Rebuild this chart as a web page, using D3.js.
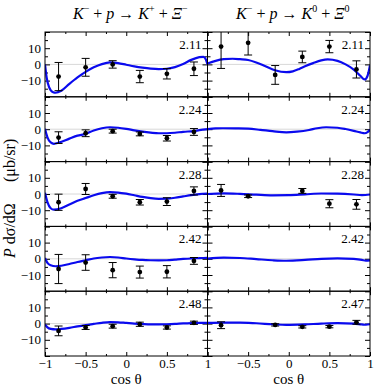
<!DOCTYPE html>
<html>
<head>
<meta charset="utf-8">
<script src="https://cdn.jsdelivr.net/npm/d3@7"></script>
<style>
  body { margin: 0; background: #fff; }
  svg { display: block; font-family: "Liberation Serif", "DejaVu Serif", serif; }
</style>
</head>
<body>
<div id="chart"></div>
<script>
// Angle bins (cos theta) of the measured points
var cosTheta = [-0.833, -0.5, -0.167, 0.167, 0.5, 0.833];

// Beam energies (GeV) shown in each row
var energiesXiMinus = ["2.11", "2.24", "2.28", "2.42", "2.48"];
var energiesXi0 = ["2.11", "2.24", "2.28", "2.42", "2.47"];

// Measured P dsigma/dOmega (mub/sr) and errors, one row per energy
var valuesXiMinus = [
  [-7.5, -1.8, 0.0, -7.5, -5.8, -2.7],
  [-5.2, -2.5, -1.2, -2.9, -5.6, -1.7],
  [-5.1, 3.1, -1.4, -5.1, -4.7, 1.9],
  [-6.3, -2.3, -7.0, -8.2, -8.0, -1.3],
  [-4.5, -2.4, -1.6, -0.4, -2.4, 0.5]
];
var errorsXiMinus = [
  [8.7, 5.5, 2.3, 3.8, 3.2, 4.2],
  [3.6, 2.1, 1.2, 1.2, 1.7, 2.1],
  [5.0, 3.4, 1.2, 1.7, 2.4, 2.5],
  [9.0, 4.8, 4.7, 3.7, 3.8, 2.1],
  [3.0, 1.2, 1.2, 1.3, 1.0, 1.0]
];
var valuesXi0 = [
  [11.0, 13.3, -6.5, 4.6, 11.0, -3.1],
  [null, null, null, null, null, null],
  [2.2, -1.4, null, 1.9, -6.0, -6.4],
  [null, null, null, null, null, null],
  [-1.0, null, -0.8, -2.0, -1.9, 0.8]
];
var errorsXi0 = [
  [13.5, 7.5, 5.8, 3.6, 3.8, 5.3],
  [null, null, null, null, null, null],
  [3.7, 0.8, null, 1.5, 2.5, 3.0],
  [null, null, null, null, null, null],
  [2.1, null, 0.7, 0.7, 0.7, 1.2]
];

// Model curves, [cos theta, value]
var curvesXiMinus = [
  [[-1, 0], [-0.98, -8], [-0.95, -14], [-0.9, -17.2], [-0.87, -17.5], [-0.8, -16.3], [-0.7, -12],
   [-0.6, -8], [-0.5, -4.6], [-0.4, -1.8], [-0.3, 0.2], [-0.2, 1.2], [-0.1, 0.8], [0, -0.2],
   [0.1, -1.2], [0.2, -2], [0.3, -2.6], [0.4, -2.9], [0.5, -2.7], [0.6, -1.7], [0.7, 0.2],
   [0.8, 2.8], [0.9, 4.5], [0.95, 4.7], [0.98, 3], [1, 0]],
  [[-1, 0.3], [-0.97, -5], [-0.93, -8.2], [-0.89, -9], [-0.83, -8.3], [-0.7, -5.8], [-0.6, -4],
   [-0.5, -2.9], [-0.4, -0.8], [-0.3, 0.6], [-0.2, 1.2], [-0.1, 0.9], [0, 0.2], [0.1, -0.7],
   [0.2, -1.5], [0.3, -2.1], [0.4, -2.5], [0.5, -2.5], [0.6, -2.2], [0.7, -1.6], [0.83, -1.2],
   [0.9, -0.6], [1, 0]],
  [[-1, 0.8], [-0.97, -5], [-0.93, -8.8], [-0.89, -9.7], [-0.8, -8.8], [-0.7, -6.5], [-0.6, -4.2],
   [-0.5, -2.5], [-0.4, -0.8], [-0.3, 0.5], [-0.2, 1.1], [-0.1, 0.9], [0, 0.2], [0.1, -0.8],
   [0.2, -1.8], [0.3, -2.6], [0.4, -3], [0.5, -2.9], [0.6, -2.3], [0.7, -1.5], [0.8, -0.7],
   [0.9, -0.1], [1, 0.3]],
  [[-1, 0.5], [-0.97, -2.5], [-0.93, -4], [-0.87, -4.6], [-0.8, -4.3], [-0.7, -3.2], [-0.6, -2],
   [-0.5, -0.9], [-0.4, 0.2], [-0.3, 0.8], [-0.2, 1.1], [-0.1, 0.8], [0, 0.2], [0.1, -0.3],
   [0.2, -0.7], [0.3, -0.9], [0.4, -1], [0.5, -0.9], [0.6, -0.5], [0.7, -0.1], [0.8, 0.2],
   [0.9, 0.4], [1, 0.6]],
  [[-1, -0.5], [-0.97, -2.3], [-0.93, -3.3], [-0.87, -3.6], [-0.8, -3.3], [-0.7, -2.6], [-0.6, -1.7],
   [-0.5, -0.9], [-0.4, -0.2], [-0.3, 0.5], [-0.2, 0.9], [-0.1, 0.8], [0, 0.4], [0.1, 0],
   [0.2, -0.3], [0.3, -0.5], [0.4, -0.5], [0.5, -0.4], [0.6, -0.2], [0.7, 0.1], [0.8, 0.3],
   [0.9, 0.4], [1, 0.4]]
];
var curvesXi0 = [
  [[-1, 0.6], [-0.9, 2.2], [-0.8, 3.2], [-0.69, 3.5], [-0.6, 3.2], [-0.5, 2.7], [-0.4, 1.2],
   [-0.3, -0.8], [-0.17, -3.6], [-0.03, -4.8], [0.05, -4.3], [0.13, -2.8], [0.2, -1.2],
   [0.3, 0.8], [0.4, 2.5], [0.48, 3.1], [0.6, 2.2], [0.7, 0], [0.8, -3.2], [0.88, -7],
   [0.935, -9.3], [0.97, -7], [1, -0.5]],
  [[-1, 0], [-0.9, 0.5], [-0.81, 0.6], [-0.65, 0.5], [-0.5, 0.3], [-0.35, -0.4], [-0.2, -1.2],
   [-0.03, -1.9], [0.1, -1.5], [0.25, -0.5], [0.35, 0.6], [0.46, 1.2], [0.6, 0.9], [0.7, 0.1],
   [0.8, -1], [0.88, -2], [0.935, -2.5], [0.97, -1.8], [1, -0.4]],
  [[-1, 0], [-0.8, 0.4], [-0.6, 0.1], [-0.4, -0.4], [-0.2, -0.8], [0, -0.7], [0.2, -0.2],
   [0.4, 0.3], [0.6, 0.2], [0.8, -0.3], [0.9, -0.7], [1, -0.3]],
  [[-1, 0.1], [-0.8, 0.7], [-0.6, 0.5], [-0.4, -0.2], [-0.2, -0.9], [-0.03, -1.2], [0.2, -0.7],
   [0.4, 0], [0.6, 0.3], [0.8, -0.1], [0.9, -0.7], [0.95, -1.2], [1, -0.9]],
  [[-1, 0.4], [-0.8, 0.6], [-0.6, 0.6], [-0.4, 0.2], [-0.2, -0.4], [-0.03, -0.8], [0.2, -0.5],
   [0.4, 0], [0.6, 0.3], [0.8, 0], [0.9, -0.5], [0.95, -0.7], [1, -0.4]]
];

var width = 374, height = 387;
var plotLeft = 45, plotTop = 32, panelW = 162.5, rowH = 64.8;

var svg = d3.select('#chart').append('svg')
            .attr('width', width)
            .attr('height', height);

var columns = [
  {energies: energiesXiMinus, values: valuesXiMinus, errors: errorsXiMinus, curves: curvesXiMinus},
  {energies: energiesXi0, values: valuesXi0, errors: errorsXi0, curves: curvesXi0}
];

var majorX = [-1, -0.5, 0, 0.5, 1],
    minorX = [-0.75, -0.25, 0.25, 0.75],
    majorY = [-20, -10, 0, 10, 20],
    minorY = [-15, -5, 5, 15];

columns.forEach(function(col, ci) {
  var x0 = plotLeft + ci * panelW;
  var x = d3.scaleLinear().domain([-1, 1]).range([x0, x0 + panelW]);

  col.energies.forEach(function(energy, ri) {
    var y0 = plotTop + ri * rowH;
    var y = d3.scaleLinear().domain([-20, 20]).range([y0 + rowH, y0]);
    var id = 'clip-' + ci + '-' + ri;

    svg.append('clipPath').attr('id', id)
      .append('rect')
      .attr('x', x0).attr('y', y0)
      .attr('width', panelW).attr('height', rowH);

    var g = svg.append('g');

    // zero line
    g.append('line')
      .attr('x1', x(-1)).attr('x2', x(1))
      .attr('y1', y(0)).attr('y2', y(0))
      .attr('stroke', '#d8d8d8').attr('stroke-width', 1);

    // ticks, all pointing inward
    function addAxis(axis, tx, ty) {
      var a = g.append('g')
        .attr('transform', 'translate(' + tx + ',' + ty + ')')
        .call(axis);
      a.select('.domain').remove();
      a.selectAll('text').remove();
      a.selectAll('line').attr('stroke', '#000');
    }
    addAxis(d3.axisBottom(x).tickValues(majorX).tickSize(4), 0, y0);
    addAxis(d3.axisBottom(x).tickValues(minorX).tickSize(2), 0, y0);
    addAxis(d3.axisTop(x).tickValues(majorX).tickSize(4), 0, y0 + rowH);
    addAxis(d3.axisTop(x).tickValues(minorX).tickSize(2), 0, y0 + rowH);
    addAxis(d3.axisRight(y).tickValues(majorY).tickSize(5), x0, 0);
    addAxis(d3.axisRight(y).tickValues(minorY).tickSize(3), x0, 0);
    addAxis(d3.axisLeft(y).tickValues(majorY).tickSize(5), x0 + panelW, 0);
    addAxis(d3.axisLeft(y).tickValues(minorY).tickSize(3), x0 + panelW, 0);

    // y tick labels on left column
    if (ci === 0) {
      var yl = g.append('g')
        .attr('transform', 'translate(' + x0 + ',0)')
        .call(d3.axisLeft(y).tickValues([-10, 0, 10]).tickSize(0).tickPadding(4));
      yl.select('.domain').remove();
      yl.selectAll('text')
        .attr('font-size', 13)
        .attr('font-family', '"Liberation Serif", serif')
        .attr('fill', '#000');
    }

    var inner = g.append('g').attr('clip-path', 'url(#' + id + ')');

    // model curve
    var line = d3.line()
      .curve(d3.curveMonotoneX)
      .x(function(d) { return x(d[0]); })
      .y(function(d) { return y(d[1]); });

    inner.append('path')
      .datum(col.curves[ri])
      .attr('d', line)
      .attr('fill', 'none')
      .attr('stroke', '#0a0aee')
      .attr('stroke-width', 2.2);

    // data points with error bars
    var pts = cosTheta.map(function(c, i) {
      return {c: c, v: col.values[ri][i], e: col.errors[ri][i]};
    }).filter(function(d) { return d.v !== null; });

    var pg = inner.selectAll('.pt').data(pts).enter().append('g');
    pg.append('line')
      .attr('x1', function(d) { return x(d.c); })
      .attr('x2', function(d) { return x(d.c); })
      .attr('y1', function(d) { return y(d.v + d.e); })
      .attr('y2', function(d) { return y(d.v - d.e); })
      .attr('stroke', '#000').attr('stroke-width', 1);
    [1, -1].forEach(function(s) {
      pg.append('line')
        .attr('x1', function(d) { return x(d.c) - 4; })
        .attr('x2', function(d) { return x(d.c) + 4; })
        .attr('y1', function(d) { return y(d.v + s * d.e); })
        .attr('y2', function(d) { return y(d.v + s * d.e); })
        .attr('stroke', '#000').attr('stroke-width', 1);
    });
    pg.append('circle')
      .attr('cx', function(d) { return x(d.c); })
      .attr('cy', function(d) { return y(d.v); })
      .attr('r', 2.4)
      .attr('fill', '#000');

    // energy label
    g.append('text')
      .attr('x', x0 + panelW - 6)
      .attr('y', y0 + 17)
      .attr('text-anchor', 'end')
      .attr('font-size', 13)
      .text(energy);

    // frame
    g.append('rect')
      .attr('x', x0).attr('y', y0)
      .attr('width', panelW).attr('height', rowH)
      .attr('fill', 'none')
      .attr('stroke', '#000').attr('stroke-width', 1);
  });

  // x tick labels along the bottom
  var xb = svg.append('g')
    .attr('transform', 'translate(0,' + (plotTop + 5 * rowH) + ')')
    .call(d3.axisBottom(x).tickValues(ci === 0 ? majorX : majorX.slice(1)).tickSize(0).tickPadding(3)
      .tickFormat(d3.format('')));
  xb.select('.domain').remove();
  xb.selectAll('text')
    .attr('font-size', 13)
    .attr('font-family', '"Liberation Serif", serif')
    .attr('fill', '#000');

  svg.append('text')
    .attr('x', x(0))
    .attr('y', 384)
    .attr('text-anchor', 'middle')
    .attr('font-size', 15)
    .text('cos \u03b8');
});

// titles
function title(cx, parts) {
  var t = svg.append('text')
    .attr('x', cx).attr('y', 19)
    .attr('text-anchor', 'middle')
    .attr('font-size', 16);
  parts.forEach(function(p) {
    var s = t.append('tspan').text(p.t);
    if (p.i) s.attr('font-style', 'italic');
    if (p.sup) s.attr('font-size', 10).attr('dy', -7);
    if (p.down) s.attr('dy', 7);
  });
}
title(plotLeft + panelW / 2 + 4, [
  {t: 'K', i: 1}, {t: '\u2212', sup: 1}, {t: ' + ', down: 1}, {t: 'p', i: 1}, {t: ' \u2192 '},
  {t: 'K', i: 1}, {t: '+', sup: 1}, {t: ' + ', down: 1}, {t: '\u039e', i: 1}, {t: '\u2212', sup: 1}
]);
title(plotLeft + panelW * 1.5 + 4, [
  {t: 'K', i: 1}, {t: '\u2212', sup: 1}, {t: ' + ', down: 1}, {t: 'p', i: 1}, {t: ' \u2192 '},
  {t: 'K', i: 1}, {t: '0', sup: 1}, {t: ' + ', down: 1}, {t: '\u039e', i: 1}, {t: '0', sup: 1}
]);

// y axis label, two parts read bottom to top
var yt = svg.append('text')
  .attr('transform', 'translate(15,258) rotate(-90)')
  .attr('text-anchor', 'start')
  .attr('font-size', 16);
yt.append('tspan').attr('font-style', 'italic').text('P');
yt.append('tspan').text(' d\u03c3/d\u03a9');

svg.append('text')
  .attr('transform', 'translate(15,182) rotate(-90)')
  .attr('text-anchor', 'start')
  .attr('font-size', 16)
  .text('(\u03bcb/sr)');
</script>
</body>
</html>
